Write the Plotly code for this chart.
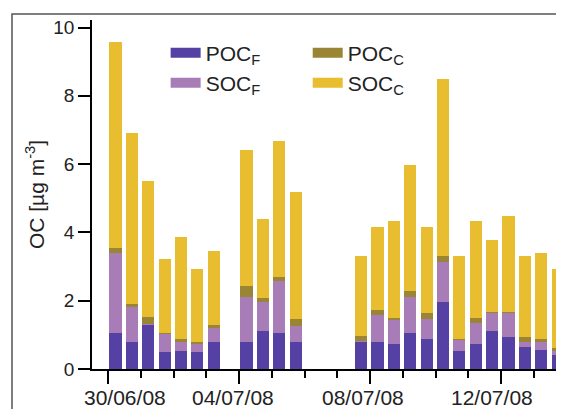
import plotly.graph_objects as go

# Sampling times (12 h samples, bar centres)
times = [
    "2008-06-30 05:30", "2008-06-30 17:30", "2008-07-01 05:30", "2008-07-01 17:30",
    "2008-07-02 05:30", "2008-07-02 17:30", "2008-07-03 05:30",
    "2008-07-04 05:30", "2008-07-04 17:30", "2008-07-05 05:30", "2008-07-05 17:30",
    "2008-07-07 17:30", "2008-07-08 05:30", "2008-07-08 17:30", "2008-07-09 05:30",
    "2008-07-09 17:30", "2008-07-10 05:30", "2008-07-10 17:30", "2008-07-11 05:30",
    "2008-07-11 17:30", "2008-07-12 05:30", "2008-07-12 17:30", "2008-07-13 05:30",
    "2008-07-13 17:30",
]

poc_f = [1.04, 0.80, 1.29, 0.49, 0.53, 0.49, 0.80, 0.80, 1.11, 1.04, 0.80,
         0.80, 0.80, 0.72, 1.04, 0.88, 1.97, 0.53, 0.72, 1.11, 0.95, 0.65, 0.56, 0.41]
soc_f = [2.35, 1.01, 0.02, 0.55, 0.27, 0.23, 0.39, 1.32, 0.86, 1.54, 0.47,
         0.02, 0.78, 0.71, 1.08, 0.58, 1.17, 0.34, 0.62, 0.54, 0.70, 0.13, 0.24, 0.11]
poc_c = [0.14, 0.09, 0.21, 0.02, 0.07, 0.08, 0.10, 0.32, 0.10, 0.11, 0.19,
         0.15, 0.15, 0.07, 0.16, 0.19, 0.17, 0.02, 0.16, 0.02, 0.02, 0.15, 0.07, 0.10]
soc_c = [6.05, 5.02, 3.98, 2.16, 2.99, 2.12, 2.17, 3.97, 2.32, 3.99, 3.73,
         2.35, 2.44, 2.83, 3.69, 2.52, 5.18, 2.42, 2.83, 2.11, 2.81, 2.38, 2.52, 2.30]

x_ticks = ["2008-06-30", "2008-07-04", "2008-07-08", "2008-07-12"]
x_ticklabels = ["30/06/08", "04/07/08", "08/07/08", "12/07/08"]
y_ticks = [0, 2, 4, 6, 8, 10]

series = [
    ("POC<sub>F</sub>", poc_f, "#5541a3", "legend"),
    ("SOC<sub>F</sub>", soc_f, "#a87cb7", "legend2"),
    ("POC<sub>C</sub>", poc_c, "#9a8535", "legend3"),
    ("SOC<sub>C</sub>", soc_c, "#e8bd30", "legend4"),
]

DAY = 86400000
FONT = "Liberation Sans, Arial, Helvetica, sans-serif"

fig = go.Figure()
for name, vals, col, lg in series:
    fig.add_trace(go.Bar(x=times, y=vals, name=name, marker_color=col,
                         marker_line_width=0, width=0.37 * DAY, showlegend=False))
for name, vals, col, lg in series:
    fig.add_trace(go.Scatter(x=[None], y=[None], mode="lines", name=name,
                             line=dict(color=col, width=10), legend=lg, showlegend=True))

# date labels sit slightly off their ticks in the original figure
label_shift = [17, -6, -7, -9]
for tv, tl, sh in zip(x_ticks, x_ticklabels, label_shift):
    fig.add_annotation(x=tv, y=0, xref="x", yref="y", text=tl, showarrow=False,
                       xanchor="center", yanchor="top", xshift=sh, yshift=-15,
                       font=dict(family=FONT, size=21, color="#222"))

leg_common = dict(font=dict(family=FONT, size=21, color="#222"), bgcolor="rgba(0,0,0,0)",
                  xanchor="left", yanchor="middle", itemwidth=30)
fig.update_layout(
    width=564, height=409,
    margin=dict(l=84, r=8, t=12, b=48),
    plot_bgcolor="white", paper_bgcolor="white",
    barmode="stack",
    font=dict(family=FONT, size=19, color="#222"),
    legend=dict(x=0.156, y=0.905, **leg_common),
    legend2=dict(x=0.156, y=0.819, **leg_common),
    legend3=dict(x=0.457, y=0.905, **leg_common),
    legend4=dict(x=0.457, y=0.819, **leg_common),
    xaxis=dict(
        type="date", automargin=False,
        range=["2008-06-29 12:15", "2008-07-13 22:10"],
        tickvals=x_ticks, ticktext=x_ticklabels, showticklabels=False,
        ticks="outside", ticklen=13, tickwidth=1.8, tickcolor="black",
        showline=True, linecolor="black", linewidth=1.8,
        showgrid=False, zeroline=False,
        minor=dict(dtick=DAY, tick0="2008-06-30", ticks="outside", ticklen=7,
                   tickwidth=1.5, tickcolor="black", showgrid=False),
    ),
    yaxis=dict(
        range=[0, 10.22], automargin=False,
        tickvals=y_ticks,
        ticks="outside", ticklen=12, tickwidth=1.8, tickcolor="black",
        showline=True, linecolor="black", linewidth=1.8,
        showgrid=False, zeroline=False,
        tickfont=dict(size=19),
        title=dict(text="OC [µg m<sup>-3</sup>]", font=dict(size=21), standoff=3),
    ),
    shapes=[dict(type="rect", xref="paper", yref="paper",
                 x0=-0.1695, x1=1.2, y0=-0.3, y1=1.017,
                 line=dict(color="#555", width=1.5), fillcolor="rgba(0,0,0,0)")],
)

fig.write_html("out.html")
